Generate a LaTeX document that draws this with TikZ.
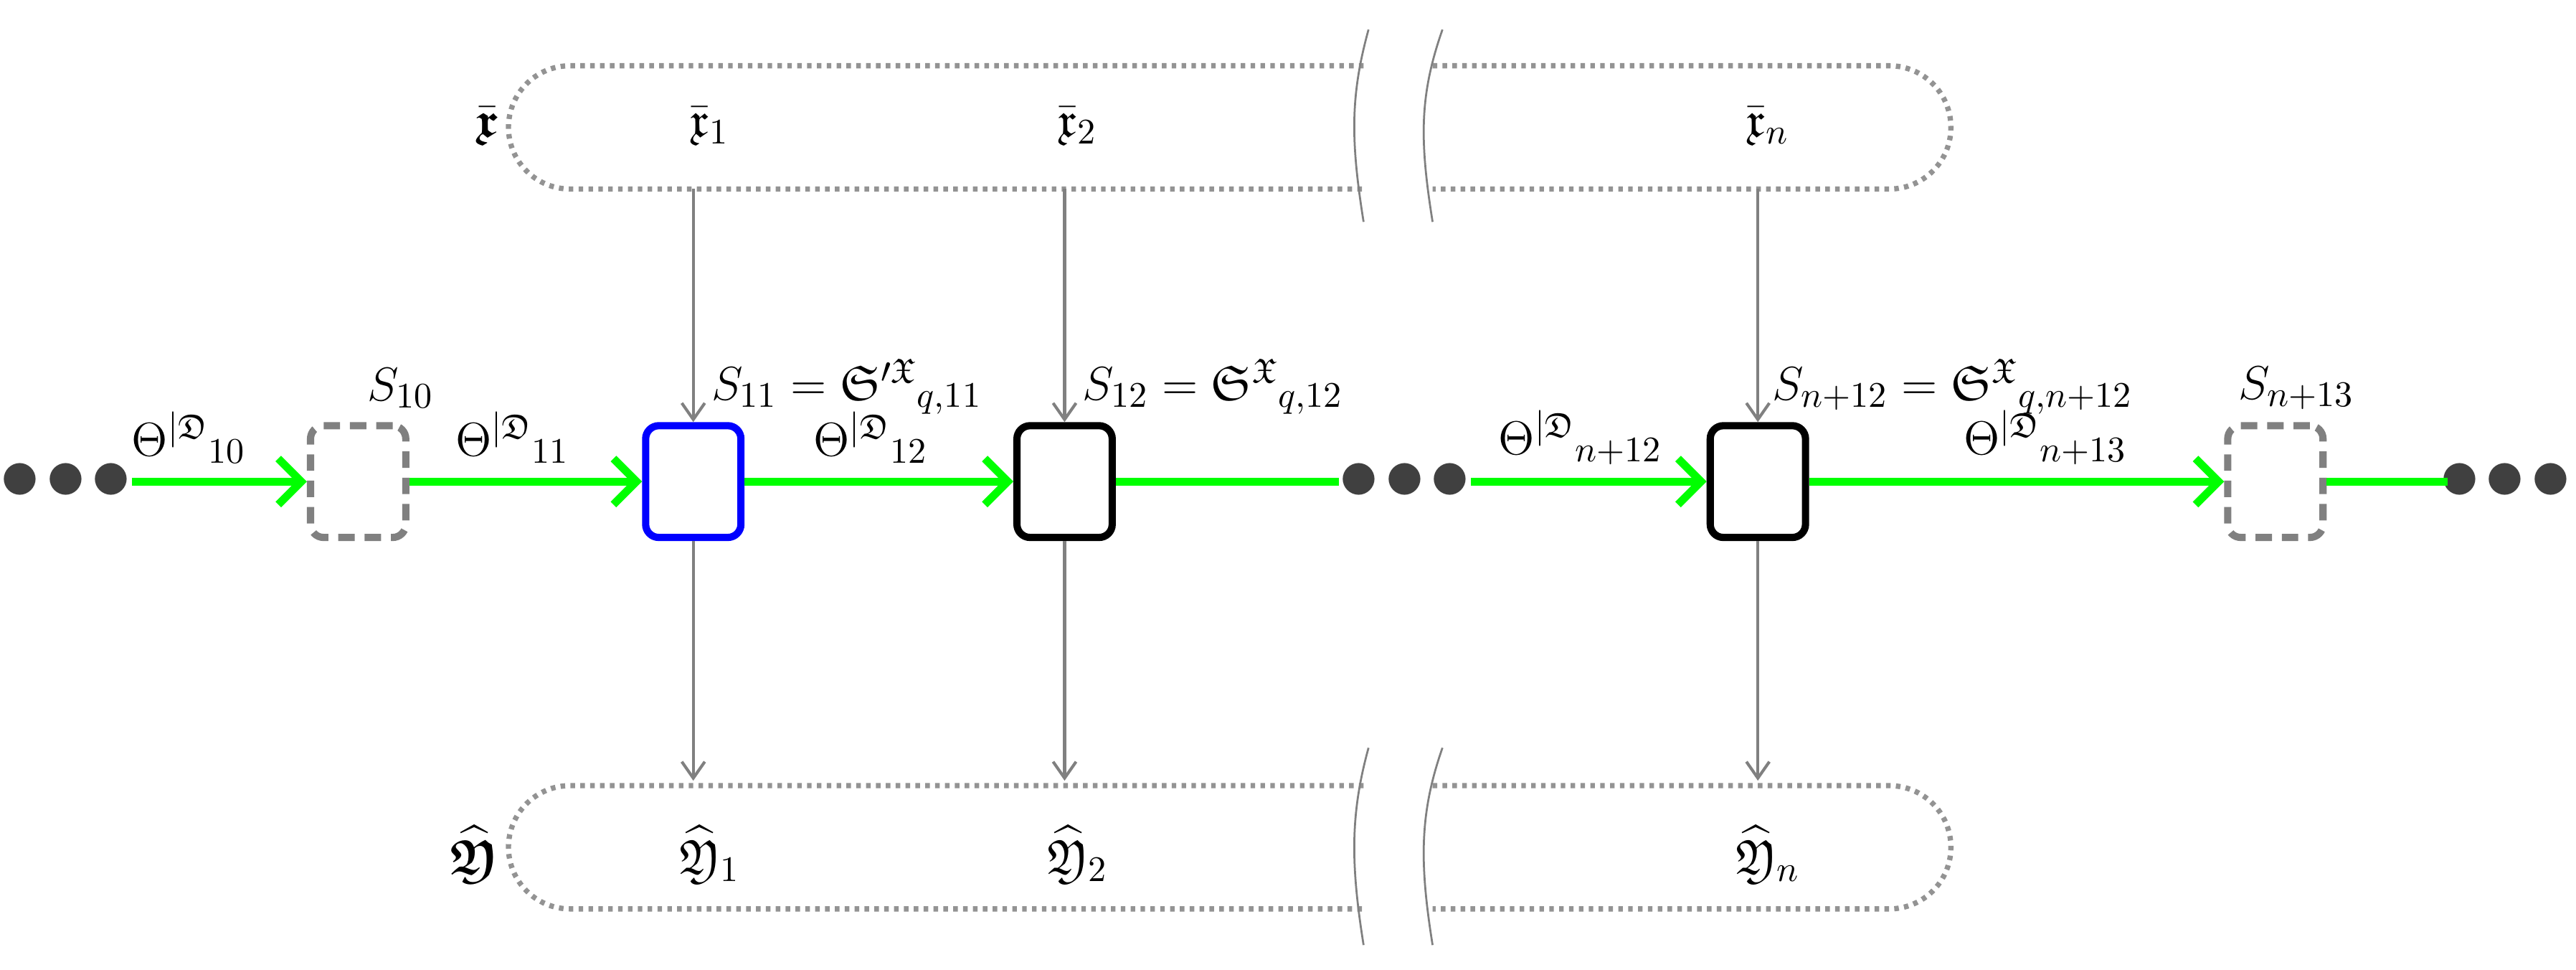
\documentclass[tikz,border=0pt]{standalone}
\usepackage{amssymb}
\usepackage{bm}
\usetikzlibrary{arrows.meta}
\begin{document}
\begin{tikzpicture}[x=0.5pt,y=-0.5pt,
  every node/.style={font=\fontsize{15}{17}\selectfont},
  pill/.style={draw=gray!85,line width=1.6pt,dash pattern=on 1.4pt off 1.6pt},
  brk/.style={draw=gray,line width=0.6pt},
  vin/.style={draw=gray,line width=0.9pt,-{Straight Barb[length=5pt,width=7pt]}},
  flow/.style={draw=green,line width=2.4pt},
  flowa/.style={flow,-{Straight Barb[length=7pt,width=14pt,line width=2.4pt]}},
  st/.style={draw,rounded corners=4pt,line width=2.2pt,minimum width=29pt,minimum height=34pt,inner sep=0pt},
  ghost/.style={st,draw=gray,dash pattern=on 5pt off 3pt},
  dots/.style={font=\fontsize{30}{30}\selectfont,text=black!75,inner sep=0pt}]
\useasboundingbox (0,0) rectangle (1568,590);
% pills
\foreach \t/\b in {40/115,478/553}{
  \draw[pill] (830,\t) -- (347,\t) arc[start angle=90,end angle=270,radius=18.75pt] -- (830,\b);
  \draw[pill] (872,\t) -- (1150,\t) arc[start angle=90,end angle=-90,radius=18.75pt] -- (872,\b);
}
% breaks
\foreach \t/\b in {18/135,455/575}{
  \draw[brk] (833,\t) .. controls (822,{\t+40}) and (822,{\b-50}) .. (830,\b);
  \draw[brk] (878,\t) .. controls (864,{\t+40}) and (864,{\b-50}) .. (872,\b);
}
% labels in pills
\node[anchor=east,inner sep=1pt] (X) at (306,77) {$\bar{\bm{\mathfrak{x}}}$};
\node (x1) at (432,77) {$\bar{\mathfrak{x}}_1$};
\node (x2) at (656,77) {$\bar{\mathfrak{x}}_2$};
\node (xn) at (1076,77) {$\bar{\mathfrak{x}}_n$};
\node[anchor=east,inner sep=1pt] (Y) at (306,520) {$\widehat{\bm{\mathfrak{Y}}}$};
\node (y1) at (432,520) {$\widehat{\mathfrak{Y}}_1$};
\node (y2) at (656,520) {$\widehat{\mathfrak{Y}}_2$};
\node (yn) at (1076,520) {$\widehat{\mathfrak{Y}}_n$};
\coordinate (t1) at (422,115); \coordinate (t2) at (648,115); \coordinate (tn) at (1070,115);
\coordinate (b1) at (422,475); \coordinate (b2) at (648,475); \coordinate (bn) at (1070,475);
% states
\node[ghost] (s10) at (218,293) {};
\node[st,draw=blue] (s11) at (422,293) {};
\node[st,draw=black] (s12) at (648,293) {};
\node[st,draw=black] (sn) at (1070,293) {};
\node[ghost] (sn13) at (1385,293) {};
\node[dots] (d1) at (40,293) {$\bullet\!\bullet\!\bullet$};
\node[dots] (d2) at (855,293) {$\bullet\!\bullet\!\bullet$};
\node[dots] (d3) at (1525,293) {$\bullet\!\bullet\!\bullet$};
\coordinate (e12) at (815,293); \coordinate (e13) at (1490,293);
% vertical arrows
\draw[vin] (t1) -- (s11.north); \draw[vin] (s11.south) -- (b1);
\draw[vin] (t2) -- (s12.north); \draw[vin] (s12.south) -- (b2);
\draw[vin] (tn) -- (sn.north); \draw[vin] (sn.south) -- (bn);
% flow
\draw[flowa] (d1.east) -- (s10.west);
\draw[flowa] (s10.east) -- (s11.west);
\draw[flowa] (s11.east) -- (s12.west);
\draw[flow] (s12.east) -- (e12);
\draw[flowa] (d2.east) -- (sn.west);
\draw[flowa] (sn.east) -- (sn13.west);
\draw[flow] (sn13.east) -- (e13);
% flow labels
\node (l10) at (115,266) {$\Theta^{|\mathfrak{D}}{}_{10}$};
\node (l11) at (312,266) {$\Theta^{|\mathfrak{D}}{}_{11}$};
\node (l12) at (530,266) {$\Theta^{|\mathfrak{D}}{}_{12}$};
\node (ln12) at (962,266) {$\Theta^{|\mathfrak{D}}{}_{n+12}$};
\node (ln13) at (1245,266) {$\Theta^{|\mathfrak{D}}{}_{n+13}$};
% state labels
\node (S10) at (244,236) {$S_{10}$};
\node[anchor=west] (S11) at (426,235) {$S_{11}=\mathfrak{S}'^{\mathfrak{X}}{}_{q,11}$};
\node[anchor=west] (S12) at (652,235) {$S_{12}=\mathfrak{S}^{\mathfrak{X}}{}_{q,12}$};
\node[anchor=west] (Sn) at (1072,235) {$S_{n+12}=\mathfrak{S}^{\mathfrak{X}}{}_{q,n+12}$};
\node (Sn13) at (1398,236) {$S_{n+13}$};
\end{tikzpicture}
\end{document}
